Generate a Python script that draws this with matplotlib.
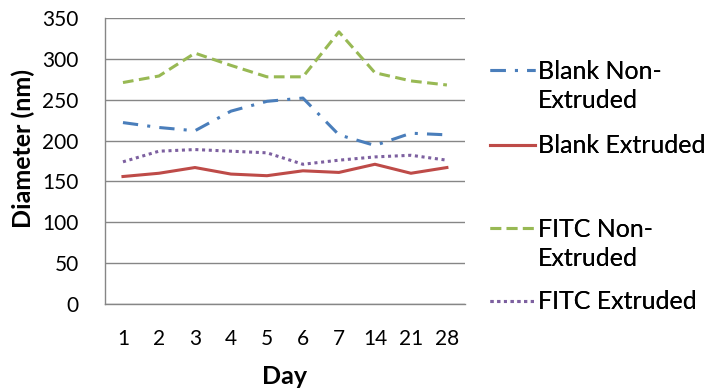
import matplotlib as mpl
mpl.use('Agg')
import matplotlib.pyplot as plt
from matplotlib.lines import Line2D

mpl.rcParams['font.family'] = ['Lato', 'DejaVu Sans']

days = ["1", "2", "3", "4", "5", "6", "7", "14", "21", "28"]
blank_non_ext = [222, 216, 212, 236, 248, 252, 207, 194, 209, 207]
blank_ext = [156, 160, 167, 159, 157, 163, 161, 171, 160, 167]
fitc_non_ext = [271, 279, 307, 292, 278, 278, 333, 283, 273, 268]
fitc_ext = [174, 187, 189, 187, 185, 171, 176, 180, 182, 176]

DPI = 100
fig = plt.figure(figsize=(717/DPI, 391/DPI), dpi=DPI)
ax = fig.add_axes([0.1464, 0.2225, 0.502, 0.7315])

x = range(len(days))
lw = 2.2
l1, = ax.plot(x, blank_non_ext, color="#4A7EBB", linewidth=lw, dashes=(5, 3, 1, 3))
l2, = ax.plot(x, blank_ext, color="#BE4B48", linewidth=lw)
l3, = ax.plot(x, fitc_non_ext, color="#98B954", linewidth=lw, dashes=(3.5, 1.8))
l4, = ax.plot(x, fitc_ext, color="#7D60A0", linewidth=lw, dashes=(1, 1.2))

ax.set_xlim(-0.5, len(days) - 0.5)
ax.set_ylim(0, 350)
ax.set_yticks(range(0, 351, 50))
ax.set_xticks(list(x))
ax.set_xticklabels(days)
ax.tick_params(axis='both', length=0, labelsize=15)
ax.tick_params(axis='y', pad=19)
ax.tick_params(axis='x', pad=18)
ax.yaxis.grid(True, color="#868686", linewidth=1)
ax.set_axisbelow(True)
for s in ["top", "right"]:
    ax.spines[s].set_visible(False)
for s in ["left", "bottom"]:
    ax.spines[s].set_color("#868686")
    ax.spines[s].set_linewidth(1)

ax.set_xlabel("Day", fontsize=18, fontweight='bold')
ax.set_ylabel("Diameter (nm)", fontsize=18, fontweight='bold')
ax.xaxis.set_label_coords(0.5, -0.215)
ax.yaxis.set_label_coords(-0.195, 0.545)

# one legend block per series; wrapped labels keep the key on the first line
blank = Line2D([], [], linestyle='none')
entries = [
    ([l1, blank], ["Blank Non-", "Extruded"], 0.780),
    ([l2], ["Blank Extruded"], 0.627),
    ([l3, blank], ["FITC Non-", "Extruded"], 0.376),
    ([l4], ["FITC Extruded"], 0.228),
]
for handles, labels, yc in entries:
    leg = fig.legend(handles=handles, labels=labels, loc='center left',
                     bbox_to_anchor=(0.683, yc), frameon=False, fontsize=18,
                     handlelength=1.8, handletextpad=0.12, labelspacing=0.25,
                     borderaxespad=0, borderpad=0)
    fig.add_artist(leg)

fig.savefig("out.png", dpi=DPI)
